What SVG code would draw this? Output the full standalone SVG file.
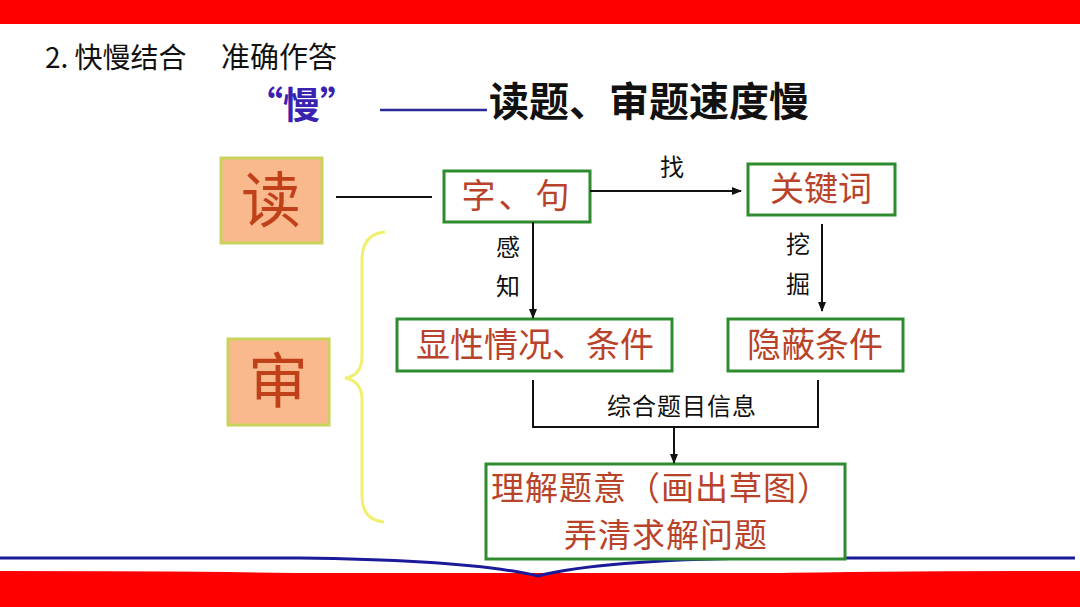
<svg xmlns="http://www.w3.org/2000/svg" width="1080" height="607" viewBox="0 0 1080 607">
<style>
.cjk{font-family:"Noto Sans CJK SC","Noto Sans",sans-serif}
.box{fill:#ffffff;stroke:#2e8b2e;stroke-width:3}
.big{fill:#f9b98c;stroke:#c9d35c;stroke-width:3}
.bt{fill:#b8432a;font-size:34px;text-anchor:middle}
.bigt{fill:#c0401a;font-size:60px;text-anchor:middle}
.lab{fill:#111;font-size:24px;text-anchor:middle}
.ln{stroke:#111;stroke-width:2;fill:none}
</style>
<defs>
<marker id="ah" markerWidth="10" markerHeight="8" refX="9" refY="4" orient="auto" markerUnits="userSpaceOnUse">
<path d="M0,0 L10,4 L0,8 Z" fill="#111"/>
</marker>
</defs>
<rect x="0" y="0" width="1080" height="607" fill="#ffffff"/>
<rect x="0" y="0" width="1080" height="24" fill="#ff0000"/>
<path d="M0,573 L1080,573 L1080,607 L0,607 Z" fill="#ff0000"/>
<path d="M0,571 Q400,571 538,582 Q680,571 1080,571 L1080,576 L0,576 Z" fill="#ff0000"/>
<path d="M0,558 L300,558 Q470,560 538,576 Q600,560 760,558 L1075,558" fill="none" stroke="#1a1a9a" stroke-width="3"/>
<text class="cjk" x="45" y="68" font-size="28" fill="#111">2. 快慢结合</text>
<text class="cjk" x="221" y="68" font-size="29" fill="#111">准确作答</text>
<text class="cjk" x="246" y="119" font-size="37" font-weight="bold" fill="#3a22b0">“慢”</text>
<line x1="380" y1="110" x2="487" y2="110" stroke="#2a2a9a" stroke-width="2.5"/>
<text class="cjk" x="489" y="116" font-size="40" font-weight="bold" fill="#111">读题、审题速度慢</text>
<g id="n-read"><rect class="big" x="221" y="158" width="101" height="85"/><text class="cjk bigt" x="271" y="222">读</text></g>
<g id="n-shen"><rect class="big" x="228" y="339" width="101" height="86"/><text class="cjk bigt" x="278" y="403">审</text></g>
<g id="n-zijv"><rect class="box" x="444" y="171" width="146" height="51"/><text class="cjk bt" x="517" y="208" letter-spacing="3">字、句</text></g>
<g id="n-gjc"><rect class="box" x="748" y="164" width="147" height="51"/><text class="cjk bt" x="821" y="201">关键词</text></g>
<g id="n-xx"><rect class="box" x="397" y="319" width="275" height="52"/><text class="cjk bt" x="535" y="357">显性情况、条件</text></g>
<g id="n-yb"><rect class="box" x="728" y="319" width="175" height="52"/><text class="cjk bt" x="815" y="357">隐蔽条件</text></g>
<g id="n-lj"><rect class="box" x="486" y="464" width="359" height="95"/>
<text class="cjk" x="661" y="500" font-size="33" fill="#b8432a" text-anchor="middle" letter-spacing="1">理解题意（画出草图）</text>
<text class="cjk" x="666" y="547" font-size="33" fill="#b8432a" text-anchor="middle" letter-spacing="1">弄清求解问题</text></g>
<g id="connectors">
<line class="ln" x1="336" y1="197" x2="432" y2="197"/>
<line class="ln" x1="590" y1="191" x2="741" y2="191" marker-end="url(#ah)"/>
<line class="ln" x1="533" y1="222" x2="533" y2="318" marker-end="url(#ah)"/>
<line class="ln" x1="822" y1="224" x2="822" y2="311" marker-end="url(#ah)"/>
<path class="ln" d="M533,380 L533,427 L818,427 L818,380"/>
<line class="ln" x1="674" y1="427" x2="674" y2="463" marker-end="url(#ah)"/>
<path d="M385,232 Q362,234 362,260 L362,356 Q362,376 345,378 Q362,381 362,400 L362,496 Q362,520 384,522" fill="none" stroke="#f0f070" stroke-width="3"/>
<text class="cjk lab" x="672" y="176">找</text>
<text class="cjk lab" x="508" y="256">感</text>
<text class="cjk lab" x="508" y="295">知</text>
<text class="cjk lab" x="798" y="253">挖</text>
<text class="cjk lab" x="798" y="293">掘</text>
<text class="cjk" x="682" y="415" font-size="24" fill="#111" text-anchor="middle" letter-spacing="1">综合题目信息</text>
</g>
</svg>
